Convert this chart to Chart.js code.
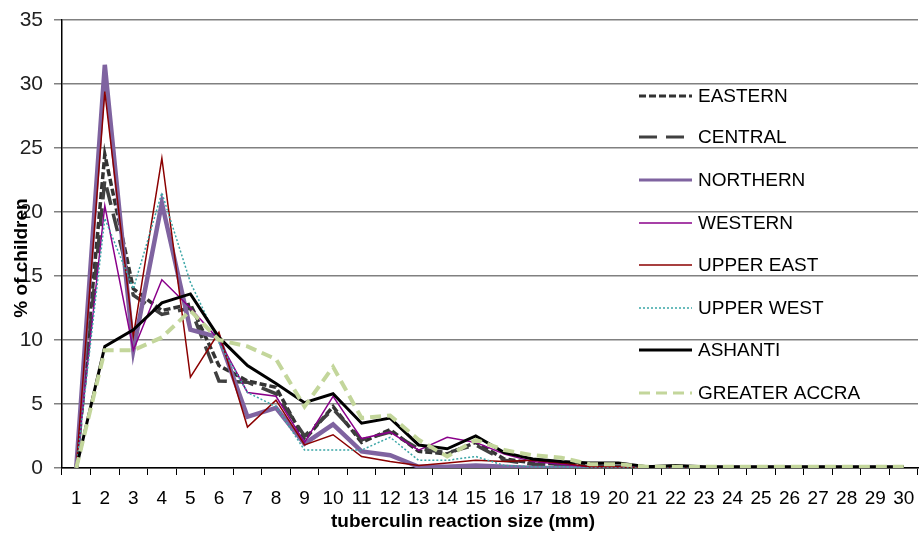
<!DOCTYPE html>
<html>
<head>
<meta charset="utf-8">
<script src="https://cdn.jsdelivr.net/npm/chart.js@4.4.1/dist/chart.umd.min.js"></script>
<style>
  html, body { margin: 0; padding: 0; background: #fff; }
  #wrap { width: 919px; height: 537px; position: relative; }
</style>
</head>
<body>
<div id="wrap"><canvas id="tbChart"></canvas></div>
<script>
// reaction sizes 1..30 mm
const sizes = ['1','2','3','4','5','6','7','8','9','10','11','12','13','14','15','16','17','18','19','20','21','22','23','24','25','26','27','28','29','30'];

// % of children per region
const eastern      = [0, 24.5, 14.0, 12.3, 12.8, 8.0, 6.8, 6.3, 2.2, 4.8, 2.0, 3.0, 1.3, 1.1, 2.0, 0.7, 0.4, 0.3, 0.2, 0.1, 0.1, 0.1, 0, 0, 0, 0, 0, 0, 0, 0];
const central      = [0, 22.5, 13.5, 12.0, 12.5, 6.8, 6.7, 5.8, 2.5, 4.6, 2.2, 2.8, 1.5, 1.2, 1.8, 0.6, 0.3, 0.2, 0.1, 0.1, 0, 0, 0, 0, 0, 0, 0, 0, 0, 0];
const northern     = [0, 31.5, 9.2, 20.7, 10.8, 10.2, 4.0, 4.7, 1.9, 3.4, 1.3, 1.0, 0.1, 0.1, 0.2, 0.1, 0, 0, 0, 0, 0, 0, 0, 0, 0, 0, 0, 0, 0, 0];
const western      = [0, 20.5, 9.2, 14.7, 12.5, 10.0, 5.9, 5.6, 2.0, 5.6, 2.3, 2.8, 1.4, 2.4, 2.0, 1.1, 0.5, 0.3, 0.1, 0.1, 0, 0, 0, 0, 0, 0, 0, 0, 0, 0];
const upperEast    = [0, 29.4, 10.3, 24.2, 7.1, 10.6, 3.2, 5.3, 1.8, 2.6, 0.9, 0.5, 0.2, 0.4, 0.6, 0.5, 0.6, 0.4, 0.1, 0.1, 0, 0, 0, 0, 0, 0, 0, 0, 0, 0];
const upperWest    = [0, 19.5, 14.0, 21.5, 14.5, 9.8, 5.9, 4.8, 1.4, 1.4, 1.4, 2.4, 0.6, 0.6, 0.9, 0.2, 0.1, 0.1, 0, 0, 0, 0, 0, 0, 0, 0, 0, 0, 0, 0];
const ashanti      = [0, 9.5, 10.8, 12.9, 13.6, 10.2, 8.0, 6.6, 5.1, 5.8, 3.5, 3.9, 1.8, 1.5, 2.5, 1.2, 0.7, 0.5, 0.4, 0.4, 0.1, 0.2, 0.1, 0.1, 0.1, 0.1, 0.1, 0.1, 0.1, 0.1];
const greaterAccra = [0, 9.2, 9.2, 10.2, 12.3, 10.0, 9.5, 8.5, 4.8, 7.9, 3.9, 4.1, 2.2, 0.9, 2.2, 1.4, 1.0, 0.8, 0.3, 0.3, 0.1, 0.1, 0.1, 0.1, 0.1, 0.1, 0.1, 0.1, 0.1, 0.1];

const yTicks = [0, 5, 10, 15, 20, 25, 30, 35];

function makeSet(label, values, color, width, dash, order){
  return {
    label: label,
    data: values,
    borderColor: color,
    backgroundColor: color,
    borderWidth: width,
    borderDash: dash,
    pointRadius: 0,
    tension: 0,
    fill: false,
    order: order
  };
}

// legend drawn inside the plot, like the original
const legendInside = {
  id: 'legendInside',
  afterDraw(chart){
    const ctx = chart.ctx;
    const rows = [96, 137, 180, 223, 265, 308, 350, 393];
    chart.data.datasets.forEach((ds, i) => {
      const y = rows[i];
      ctx.save();
      ctx.strokeStyle = ds.borderColor;
      ctx.lineWidth = Math.min(ds.borderWidth, 3);
      ctx.setLineDash(ds.borderDash);
      ctx.beginPath();
      ctx.moveTo(639, y);
      ctx.lineTo(692, y);
      ctx.stroke();
      ctx.setLineDash([]);
      ctx.fillStyle = '#000';
      ctx.font = '19px "Liberation Sans", Arial, sans-serif';
      ctx.textBaseline = 'middle';
      ctx.textAlign = 'left';
      ctx.fillText(ds.label, 698, y + 1);
      ctx.restore();
    });

    // axis titles
    ctx.save();
    ctx.fillStyle = '#000';
    ctx.font = 'bold 19px "Liberation Sans", Arial, sans-serif';
    ctx.textAlign = 'center';
    ctx.textBaseline = 'middle';
    ctx.fillText('tuberculin reaction size (mm)', 463, 522);
    ctx.translate(22, 258);
    ctx.rotate(-Math.PI / 2);
    ctx.fillText('% of children', 0, 0);
    ctx.restore();
  }
};

const ctx = document.getElementById('tbChart').getContext('2d');
new Chart(ctx, {
  type: 'line',
  data: {
    labels: sizes,
    datasets: [
      makeSet('EASTERN', eastern, '#333333', 3.5, [7, 3], 8),
      makeSet('CENTRAL', central, '#404040', 3.5, [18, 9], 7),
      makeSet('NORTHERN', northern, '#7f63a0', 4.5, [], 6),
      makeSet('WESTERN', western, '#8a008a', 1.5, [], 5),
      makeSet('UPPER EAST', upperEast, '#8b0000', 1.5, [], 4),
      makeSet('UPPER WEST', upperWest, '#3aa6a6', 1.5, [2, 2], 3),
      makeSet('ASHANTI', ashanti, '#000000', 3, [], 2),
      makeSet('GREATER ACCRA', greaterAccra, '#c3d69b', 4, [11, 6], 1)
    ]
  },
  options: {
    responsive: true,
    maintainAspectRatio: false,
    animation: false,
    layout: { padding: { top: 20, right: 1, left: 0, bottom: 0 } },
    plugins: {
      legend: { display: false },
      tooltip: { enabled: false }
    },
    scales: {
      x: {
        offset: true,
        afterFit: (scale) => {
          scale.height = 69;
          scale.paddingLeft = 0;
          scale.paddingRight = 0;
        },
        border: { display: true, color: '#000', width: 1.5 },
        grid: {
          offset: true,
          drawOnChartArea: false,
          drawTicks: true,
          tickLength: 7,
          color: '#000',
          lineWidth: 1
        },
        ticks: {
          color: '#000',
          padding: 12,
          maxRotation: 0,
          autoSkip: false,
          font: { family: '"Liberation Sans", Arial, sans-serif', size: 19 }
        }
      },
      y: {
        min: 0,
        max: 35,
        afterFit: (scale) => {
          scale.width = 62;
          scale.paddingTop = 0;
          scale.paddingBottom = 0;
        },
        afterBuildTicks: (scale) => { scale.ticks = yTicks.map(v => ({ value: v })); },
        border: { display: true, color: '#000', width: 1.5 },
        grid: {
          color: '#808080',
          lineWidth: 1.5,
          drawTicks: true,
          tickLength: 8
        },
        ticks: {
          color: '#222',
          padding: 11,
          font: { family: '"Liberation Sans", Arial, sans-serif', size: 21 }
        }
      }
    }
  },
  plugins: [legendInside]
});
</script>
</body>
</html>
